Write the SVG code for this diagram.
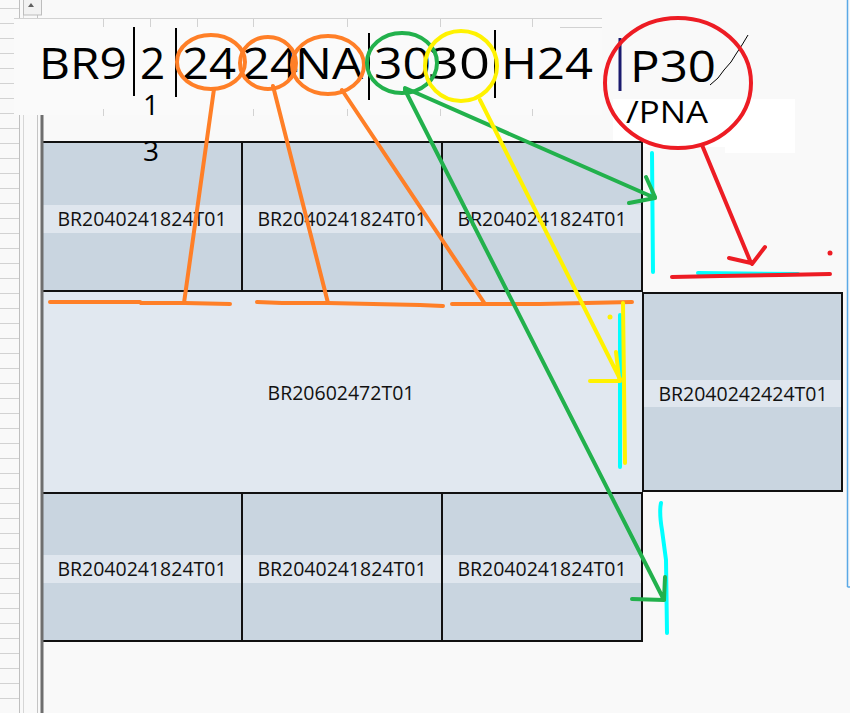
<svg xmlns="http://www.w3.org/2000/svg" width="850" height="713" viewBox="0 0 850 713">
<style>
.bg{fill:#f9f9f9}
.grid{stroke:#d2d2d2;stroke-width:1;fill:none}
.box{fill:#c9d5e0}
.big{fill:#e1e8f0}
.band{fill:#dfe6ee}
.edge{fill:none;stroke:#111;stroke-width:2}
.lbl{font-family:"Open Sans","Noto Sans","DejaVu Sans",sans-serif;font-size:19.5px;fill:#111;text-anchor:middle}
.hdr{font-family:"Open Sans","Noto Sans","DejaVu Sans",sans-serif;font-size:44px;fill:#000}
.num{font-family:"Open Sans","Noto Sans","DejaVu Sans",sans-serif;font-size:28px;fill:#000;text-anchor:middle}
.bar{stroke:#000;stroke-width:2}
.pen{fill:none;stroke-width:4;stroke-linecap:round;stroke-linejoin:round}
.or{stroke:#ff7f27}
.gr{stroke:#22b14c}
.ye{stroke:#fff200}
.rd{stroke:#ed1c24}
.cy{stroke:#00ffff}
</style>
<rect class="bg" x="0" y="0" width="850" height="713"/>
<g id="sheet-frame">
  <g class="grid">
    <path d="M0 8.5H19M0 23.5H19M0 38.5H19M0 53.5H19M0 68.5H19M0 83.5H19M0 98.5H19M0 113.5H19M0 128.5H19M0 143.5H19M0 158.5H19M0 173.5H19M0 188.5H19M0 203.5H19M0 218.5H19M0 233.5H19M0 248.5H19M0 263.5H19M0 278.5H19M0 293.5H19M0 308.5H19M0 323.5H19M0 338.5H19M0 353.5H19M0 368.5H19M0 383.5H19M0 398.5H19M0 413.5H19M0 428.5H19M0 443.5H19M0 458.5H19M0 473.5H19M0 488.5H19M0 503.5H19M0 518.5H19M0 533.5H19M0 548.5H19M0 563.5H19M0 578.5H19M0 593.5H19M0 608.5H19M0 623.5H19M0 638.5H19M0 653.5H19M0 668.5H19M0 683.5H19M0 698.5H19"/>
  </g>
  <line x1="19.5" y1="0" x2="19.5" y2="713" stroke="#bfbfbf"/>
  <line x1="23.5" y1="0" x2="23.5" y2="713" stroke="#d6d6d6"/>
  <line x1="37.5" y1="0" x2="37.5" y2="713" stroke="#c4c4c4"/>
  <rect x="23.5" y="-1" width="18" height="16" fill="#f2f2f2" stroke="#bdbdbd"/>
  <polygon points="28,7 34,7 31,3" fill="#606060"/>
  <line x1="847.5" y1="0" x2="847.5" y2="587" stroke="#5aa9e6" stroke-width="1.5"/>
  <line x1="847.5" y1="587" x2="850" y2="587" stroke="#5aa9e6" stroke-width="1.5"/>
</g>
<g id="header">
  <rect x="14" y="18" width="588" height="97" fill="#fafafa"/>
  <rect x="613" y="99" width="112" height="48" fill="#ffffff"/>
  <rect x="725" y="99" width="70" height="54" fill="#ffffff"/>
  <path class="grid" d="M14 18.5H602M103.5 18V27M150.5 18V27M197.5 18V27M253.5 18V27M347.5 18V27M440.5 18V27M532.5 18V27M103.5 109V116M253.5 109V116M347.5 109V116M440.5 109V116M532.5 109V116M560 27.5H602"/>
  <text class="hdr" x="39" y="79" textLength="88" lengthAdjust="spacingAndGlyphs">BR9</text>
  <line class="bar" x1="134" y1="27" x2="134" y2="96"/>
  <text class="hdr" x="140" y="79">2</text>
  <line class="bar" x1="176" y1="28" x2="176" y2="97"/>
  <text class="hdr" x="182" y="79" textLength="54" lengthAdjust="spacingAndGlyphs">24</text>
  <text class="hdr" x="242" y="79" textLength="56" lengthAdjust="spacingAndGlyphs">24</text>
  <text class="hdr" x="295" y="79" textLength="68" lengthAdjust="spacingAndGlyphs">NA</text>
  <line class="bar" x1="369" y1="33" x2="369" y2="100"/>
  <text class="hdr" x="374" y="79" textLength="57" lengthAdjust="spacingAndGlyphs">30</text>
  <text class="hdr" x="428" y="79" textLength="62" lengthAdjust="spacingAndGlyphs">30</text>
  <line class="bar" x1="495" y1="30" x2="495" y2="98"/>
  <text class="hdr" x="501" y="79" textLength="92" lengthAdjust="spacingAndGlyphs">H24</text>
  <line x1="620" y1="38" x2="620" y2="91" stroke="#1a1a6e" stroke-width="3"/>
  <text class="hdr" x="630" y="82" textLength="86" lengthAdjust="spacingAndGlyphs">P30</text>
  <path d="M710 85L718 78L724 70L731 62L736 54L742 45L748 35" fill="none" stroke="#000" stroke-width="1"/>
  <text class="hdr" x="626" y="123" style="font-size:31px" textLength="82" lengthAdjust="spacingAndGlyphs">/PNA</text>
  <text class="num" x="151" y="115">1</text>
</g>
<g id="r1c1">
  <rect class="box" x="42" y="142" width="200" height="149"/>
  <rect class="band" x="43" y="205" width="198" height="28"/>
  <text class="lbl" x="142" y="226">BR2040241824T01</text>
  <rect class="edge" x="42" y="142" width="200" height="149"/>
</g>
<g id="r1c2">
  <rect class="box" x="242" y="142" width="200" height="149"/>
  <rect class="band" x="243" y="205" width="198" height="28"/>
  <text class="lbl" x="342" y="226">BR2040241824T01</text>
  <rect class="edge" x="242" y="142" width="200" height="149"/>
</g>
<g id="r1c3">
  <rect class="box" x="442" y="142" width="200" height="149"/>
  <rect class="band" x="443" y="205" width="198" height="28"/>
  <text class="lbl" x="542" y="226">BR2040241824T01</text>
  <rect class="edge" x="442" y="142" width="200" height="149"/>
</g>
<g id="r2big">
  <rect class="big" x="43" y="292" width="599" height="200"/>
  <text class="lbl" x="341" y="400">BR20602472T01</text>
</g>
<g id="r2right">
  <rect class="box" x="643" y="293" width="199" height="198"/>
  <rect class="band" x="644" y="380" width="197" height="27"/>
  <text class="lbl" x="743" y="401">BR2040242424T01</text>
  <rect class="edge" x="643" y="293" width="199" height="198"/>
</g>
<g id="r3c1">
  <rect class="box" x="42" y="493" width="200" height="148"/>
  <rect class="band" x="43" y="555" width="198" height="28"/>
  <text class="lbl" x="142" y="576">BR2040241824T01</text>
  <rect class="edge" x="42" y="493" width="200" height="148"/>
</g>
<g id="r3c2">
  <rect class="box" x="242" y="493" width="200" height="148"/>
  <rect class="band" x="243" y="555" width="198" height="28"/>
  <text class="lbl" x="342" y="576">BR2040241824T01</text>
  <rect class="edge" x="242" y="493" width="200" height="148"/>
</g>
<g id="r3c3">
  <rect class="box" x="442" y="493" width="200" height="148"/>
  <rect class="band" x="443" y="555" width="198" height="28"/>
  <text class="lbl" x="542" y="576">BR2040241824T01</text>
  <rect class="edge" x="442" y="493" width="200" height="148"/>
</g>
<line x1="42" y1="115" x2="42" y2="713" stroke="#6e6e6e" stroke-width="3"/>
<g id="digit3">
  <text class="num" x="151" y="161">3</text>
</g>
<g id="connectors" class="pen">
  <path class="cy" d="M652 153L653 272"/>
  <path class="cy" d="M698 273L798 274"/>
  <path class="cy" d="M620 315L620 467"/>
  <path class="cy" d="M661 503Q659 512 662 530L666 560L667 633"/>
  <ellipse class="or" cx="211" cy="62" rx="34" ry="27"/>
  <ellipse class="or" cx="268" cy="63" rx="28" ry="26"/>
  <ellipse class="or" cx="328" cy="65" rx="36" ry="29"/>
  <path class="or" d="M214 89L184 303"/>
  <path class="or" d="M50 302L140 302L141 303L185 303L230 304"/>
  <path class="or" d="M273 86L328 303"/>
  <path class="or" d="M257 302L282 303L328 303L373 304L420 305L443 306"/>
  <path class="or" d="M342 90L485 304"/>
  <path class="or" d="M452 304L540 304L632 302"/>
  <ellipse class="gr" cx="402" cy="63" rx="35" ry="30"/>
  <ellipse class="ye" cx="461" cy="66" rx="36" ry="35"/>
  <ellipse class="rd" cx="678" cy="83" rx="73" ry="65"/>
  <path class="gr" d="M405 88L655 198M646 177L655 197M629 203L655 198"/>
  <path class="gr" d="M405 90L664 600M665 577L664 600M632 599L664 600"/>
  <path class="ye" d="M480 100L620 379M616 352L619 378M590 381L620 381"/>
  <path class="ye" d="M623 303L625 463"/>
  <circle cx="610" cy="317" r="2.5" fill="#fff200"/>
  <path class="rd" d="M702 145L751 263M765 247L752 264M729 258L751 263"/>
  <path class="rd" d="M672 277L720 276L780 275L830 274"/>
  <circle cx="830" cy="253" r="2.5" fill="#ed1c24"/>
</g>
</svg>
